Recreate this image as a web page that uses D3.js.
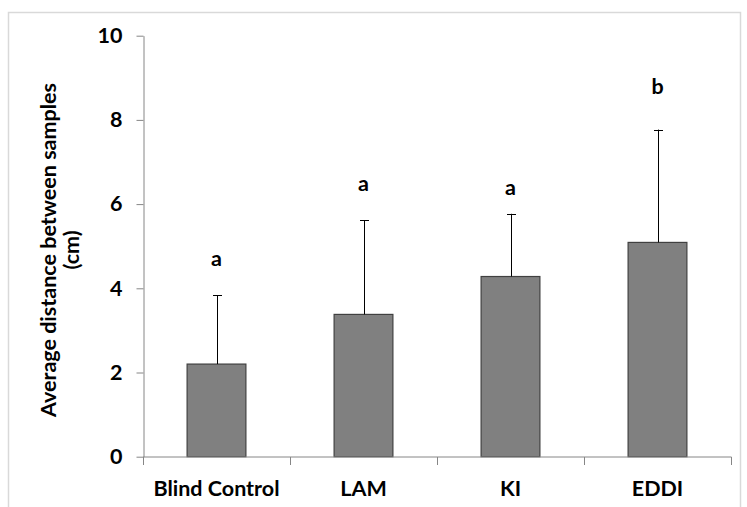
<!DOCTYPE html>
<html>
<head>
<meta charset="utf-8">
<script src="https://cdn.jsdelivr.net/npm/d3@7"></script>
<style>
  html, body { margin: 0; padding: 0; background: #fff; }
  svg { display: block; }
  text { font-family: Lato, "Open Sans", sans-serif; font-weight: bold; fill: #000; }
</style>
</head>
<body>
<svg id="chart" width="747" height="507"></svg>
<script>
const categories = ["Blind Control", "LAM", "KI", "EDDI"];
const means = [2.2, 3.38, 4.28, 5.09];
const errors = [1.63, 2.24, 1.49, 2.68];
const letters = ["a", "a", "a", "b"];
const letterHeights = [4.7, 6.5, 6.4, 8.8];
const yTicks = [0, 2, 4, 6, 8, 10];

const FS = "21.5px";
const svg = d3.select("#chart");

// outer chart border
svg.append("rect")
  .attr("x", 8.5).attr("y", 12.5)
  .attr("width", 732).attr("height", 520)
  .attr("fill", "none").attr("stroke", "#d9d9d9").attr("stroke-width", 1.5);

const x = d3.scaleBand().domain(categories).range([143, 731])
  .paddingInner(0.6).paddingOuter(0.3);
const y = d3.scaleLinear().domain([0, 10]).range([456.7, 35.7]);

const axisColor = "#868686";

// y axis
const yAxis = svg.append("g").attr("transform", "translate(143.5,0)")
  .call(d3.axisLeft(y).tickValues(yTicks).tickSize(7).tickSizeOuter(0).tickFormat(d3.format("d")));
yAxis.select(".domain").attr("stroke", axisColor);
yAxis.selectAll(".tick line").attr("stroke", axisColor);
yAxis.selectAll(".tick text").attr("x", -21).style("font-size", FS)
  .style("font-family", "Lato, sans-serif").style("font-weight", "bold").attr("fill", "#000");

// bars
svg.append("g").selectAll("rect").data(categories).join("rect")
  .attr("x", d => x(d))
  .attr("y", (d, i) => y(means[i]))
  .attr("width", x.bandwidth())
  .attr("height", (d, i) => y(0) - y(means[i]))
  .attr("fill", "#808080").attr("stroke", "#404040").attr("stroke-width", 1.2);

// error bars (upper only)
const eb = svg.append("g").attr("stroke", "#000").attr("stroke-width", 1);
const cx = d => Math.round(x(d) + x.bandwidth() / 2) + 0.5;
eb.selectAll("line.v").data(categories).join("line").attr("class", "v")
  .attr("x1", cx).attr("x2", cx)
  .attr("y1", (d, i) => y(means[i]))
  .attr("y2", (d, i) => y(means[i] + errors[i]));
eb.selectAll("line.c").data(categories).join("line").attr("class", "c")
  .attr("x1", d => cx(d) - 4.5)
  .attr("x2", d => cx(d) + 4.5)
  .attr("y1", (d, i) => Math.round(y(means[i] + errors[i])) + 0.5)
  .attr("y2", (d, i) => Math.round(y(means[i] + errors[i])) + 0.5);

// significance letters
svg.append("g").selectAll("text").data(categories).join("text")
  .attr("x", d => x(d) + x.bandwidth() / 2)
  .attr("y", (d, i) => y(letterHeights[i]))
  .attr("text-anchor", "middle").attr("dy", "0.35em")
  .style("font-size", FS)
  .text((d, i) => letters[i]);

// x axis line with category boundary ticks
const xAxisG = svg.append("g").attr("transform", "translate(0,457)");
xAxisG.append("line").attr("x1", 143).attr("x2", 731.5).attr("y1", 0).attr("y2", 0)
  .attr("stroke", axisColor);
const bounds = categories.map(d => x(d) - x.step() * x.paddingOuter() + x.step() * x.paddingInner() / 2 - x.step() * x.paddingInner() / 2);
const boundTicks = categories.map(d => x(d) + x.bandwidth() / 2 - x.step() / 2).concat([x.range()[1]]);
xAxisG.selectAll("line.t").data(boundTicks).join("line").attr("class", "t")
  .attr("x1", d => Math.round(d) + 0.5).attr("x2", d => Math.round(d) + 0.5).attr("y1", 0).attr("y2", 8)
  .attr("stroke", axisColor);

const xLab = svg.append("g").attr("transform", "translate(0,457)")
  .call(d3.axisBottom(x).tickSize(0).tickPadding(0));
xLab.select(".domain").remove();
xLab.selectAll(".tick text").attr("y", 31).attr("dy", "0.35em").style("font-size", FS)
  .style("font-family", "Lato, sans-serif").style("font-weight", "bold").attr("fill", "#000");

// y axis title
const yt = svg.append("text")
  .attr("transform", "translate(48,250) rotate(-90)")
  .attr("text-anchor", "middle").style("font-size", FS);
yt.append("tspan").attr("x", 0).attr("dy", "0.35em").text("Average distance between samples");
yt.append("tspan").attr("x", 0).attr("dy", "1.1em").text("(cm)");
</script>
</body>
</html>
